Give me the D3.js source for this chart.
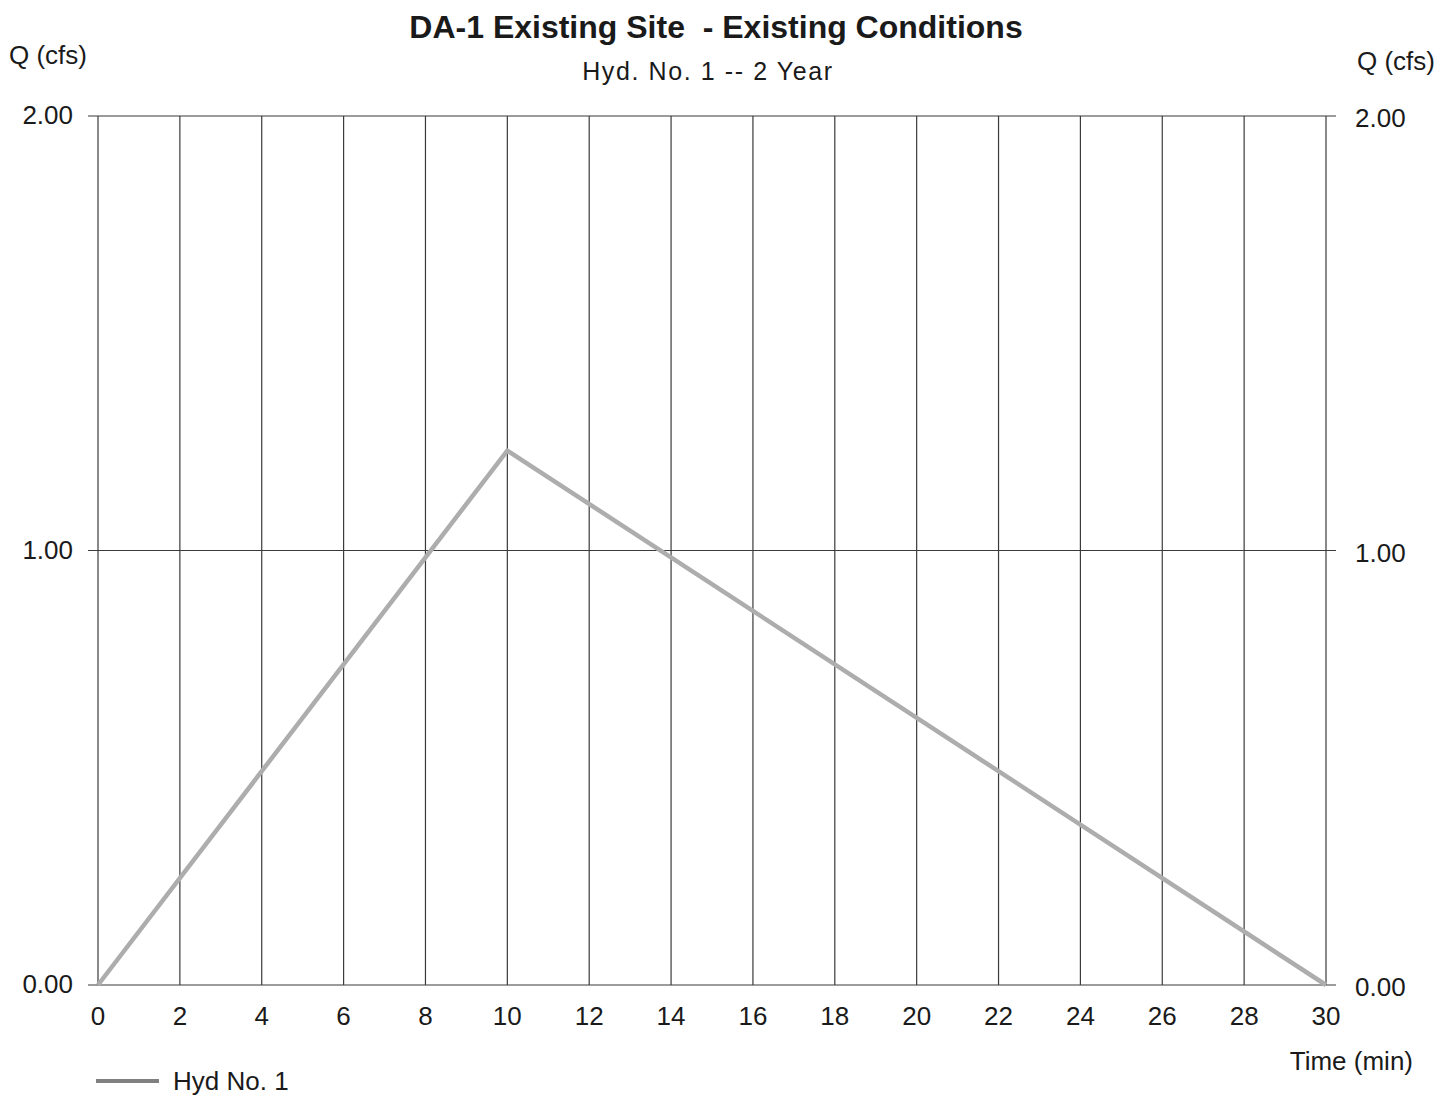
<!DOCTYPE html>
<html lang="en">
<head>
    <meta charset="UTF-8">
    <title>DA-1 Existing Site</title>
    <style>
        body { margin: 0; background: white; }
        text { font-family: "Liberation Sans", Arial, sans-serif; fill: #1a1a1a; }
        .grid line { stroke: #3a3a3a; stroke-width: 1.2; }
    </style>
</head>
<body>
<script src="https://cdn.jsdelivr.net/npm/d3@7"></script>
<script>
    const width = 1453, height = 1095;

    // hydrograph points (time in min, flow in cfs)
    const times = [0, 10, 30];
    const flows = [0, 1.23, 0];
    const xTicks = [0, 2, 4, 6, 8, 10, 12, 14, 16, 18, 20, 22, 24, 26, 28, 30];
    const yTicks = [0, 1, 2];

    const svg = d3.select("body").append("svg")
        .attr("width", width)
        .attr("height", height);

    const x = d3.scaleLinear().domain([0, 30]).range([98, 1326]);
    const y = d3.scaleLinear().domain([0, 2]).range([985, 116]);

    const grid = svg.append("g").attr("class", "grid");

    // vertical grid lines
    grid.selectAll("line.v")
        .data(xTicks)
        .join("line").attr("class", "v")
        .attr("x1", d => x(d)).attr("x2", d => x(d))
        .attr("y1", y(2)).attr("y2", y(0));

    // horizontal grid lines, extending past the plot as ticks
    grid.selectAll("line.h")
        .data(yTicks)
        .join("line").attr("class", "h")
        .attr("x1", x(0) - 10).attr("x2", x(30) + 10)
        .attr("y1", d => y(d)).attr("y2", d => y(d));

    // left y labels
    svg.selectAll("text.yl")
        .data(yTicks)
        .join("text").attr("class", "yl")
        .attr("x", 73).attr("y", d => y(d) + 8)
        .attr("text-anchor", "end")
        .style("font-size", "26px")
        .text(d => d3.format(".2f")(d));

    // right y labels
    svg.selectAll("text.yr")
        .data(yTicks)
        .join("text").attr("class", "yr")
        .attr("x", 1355).attr("y", d => y(d) + 11)
        .style("font-size", "26px")
        .text(d => d3.format(".2f")(d));

    // x labels
    svg.selectAll("text.xl")
        .data(xTicks)
        .join("text").attr("class", "xl")
        .attr("x", d => x(d)).attr("y", 1025)
        .attr("text-anchor", "middle")
        .style("font-size", "26px")
        .text(d => d);

    // hydrograph
    const line = d3.line()
        .x((d, i) => x(times[i]))
        .y(d => y(d));

    svg.append("path")
        .datum(flows)
        .attr("d", line)
        .attr("fill", "none")
        .attr("stroke", "#adadad")
        .attr("stroke-width", 4.5)
        .attr("stroke-linejoin", "round");

    // titles
    svg.append("text")
        .attr("x", 716).attr("y", 38)
        .attr("text-anchor", "middle")
        .attr("xml:space", "preserve")
        .style("font-size", "32px").style("font-weight", "bold")
        .text("DA-1 Existing Site  - Existing Conditions");

    svg.append("text")
        .attr("x", 708).attr("y", 80)
        .attr("text-anchor", "middle")
        .style("font-size", "25px")
        .style("letter-spacing", "1.6px")
        .text("Hyd. No. 1 -- 2 Year");

    svg.append("text")
        .attr("x", 9).attr("y", 64)
        .style("font-size", "26px")
        .text("Q (cfs)");

    svg.append("text")
        .attr("x", 1357).attr("y", 70)
        .style("font-size", "26px")
        .text("Q (cfs)");

    svg.append("text")
        .attr("x", 1413).attr("y", 1070)
        .attr("text-anchor", "end")
        .style("font-size", "26px")
        .text("Time (min)");

    // legend
    svg.append("line")
        .attr("x1", 96).attr("x2", 159)
        .attr("y1", 1081).attr("y2", 1081)
        .attr("stroke", "#808080").attr("stroke-width", 4);

    svg.append("text")
        .attr("x", 173).attr("y", 1090)
        .style("font-size", "26px")
        .text("Hyd No. 1");
</script>
</body>
</html>
